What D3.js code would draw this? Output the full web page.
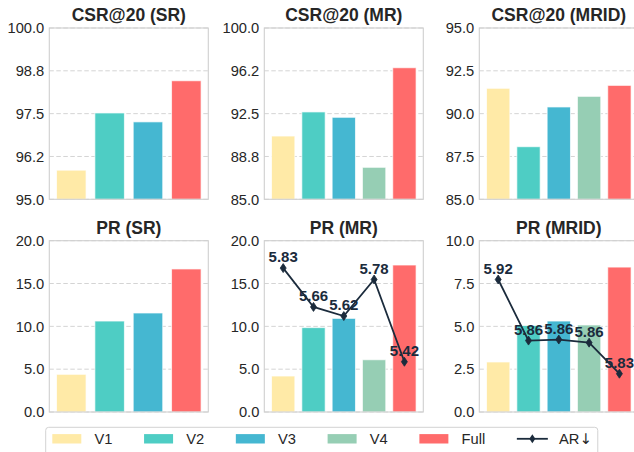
<!DOCTYPE html>
<html>
<head>
<meta charset="utf-8">
<script src="https://cdn.jsdelivr.net/npm/d3@7"></script>
<style>
  html, body { margin: 0; padding: 0; background: #fff; }
  svg { display: block; font-family: "Liberation Sans", Arial, sans-serif; }
</style>
</head>
<body>
<svg id="chart" width="634" height="452"></svg>
<script>
// ---------- data ----------
const titles = ["CSR@20 (SR)", "CSR@20 (MR)", "CSR@20 (MRID)", "PR (SR)", "PR (MR)", "PR (MRID)"];
const catsSR = ["V1", "V2", "V3", "Full"];
const catsMR = ["V1", "V2", "V3", "V4", "Full"];
const legendNames = ["V1", "V2", "V3", "V4", "Full"];
const lineName = "AR";
const lineArrow = "\u2193";

const csrSR   = [95.85, 97.52, 97.26, 98.46];
const csrMR   = [90.54, 92.65, 92.18, 87.80, 96.52];
const csrMRID = [91.48, 88.07, 90.39, 91.01, 91.65];
const prSR    = [4.40, 10.62, 11.56, 16.70];
const prMR    = [4.20, 9.85, 10.93, 6.10, 17.16];
const prMRID  = [2.92, 5.05, 5.31, 5.08, 8.46];
const arMR    = [5.83, 5.66, 5.62, 5.78, 5.42];
const arMRID  = [5.921, 5.862, 5.863, 5.860, 5.830];

const yDomains = [[95, 100], [85, 100], [85, 95], [0, 20], [0, 20], [0, 10]];
const yTicks = [
  [95, 96.25, 97.5, 98.75, 100],
  [85, 88.75, 92.5, 96.25, 100],
  [85, 87.5, 90, 92.5, 95],
  [0, 5, 10, 15, 20],
  [0, 5, 10, 15, 20],
  [0, 2.5, 5, 7.5, 10]
];
const yTickLabels = [
  ["95.0", "96.2", "97.5", "98.8", "100.0"],
  ["85.0", "88.8", "92.5", "96.2", "100.0"],
  ["85.0", "87.5", "90.0", "92.5", "95.0"],
  ["0.0", "5.0", "10.0", "15.0", "20.0"],
  ["0.0", "5.0", "10.0", "15.0", "20.0"],
  ["0.0", "2.5", "5.0", "7.5", "10.0"]
];
const arDomainMR = [5.2, 5.95];
const arDomainMRID = [5.793, 5.9585];

// ---------- style ----------
const colors = { V1: "#FFEAA7", V2: "#4ECDC4", V3: "#45B7D1", V4: "#96CEB4", Full: "#FF6B6B" };
const lineColor = "#1b2b3c";
const textColor = "#262626";
const panelLefts = [49.3, 264.3, 479.3];
const rowTops = [28, 240.7];
const pw = 159, ph = 171.3;
const barW = 0.77;

const panels = [
  { cats: catsSR, vals: csrSR },
  { cats: catsMR, vals: csrMR },
  { cats: catsMR, vals: csrMRID },
  { cats: catsSR, vals: prSR },
  { cats: catsMR, vals: prMR, ar: arMR, arDom: arDomainMR },
  { cats: catsMR, vals: prMRID, ar: arMRID, arDom: arDomainMRID }
];

const svg = d3.select("#chart");

panels.forEach((p, i) => {
  const left = panelLefts[i % 3];
  const top = rowTops[Math.floor(i / 3)];
  const g = svg.append("g").attr("transform", `translate(${left},${top})`);
  const n = p.cats.length;

  const x = d3.scaleBand().domain(p.cats).range([0, pw])
    .paddingInner(1 - barW).paddingOuter(0.05 * (n - 1 + barW)).align(0.5);
  const y = d3.scaleLinear().domain(yDomains[i]).range([ph, 0]);

  // grid
  g.append("g").selectAll("line").data(yTicks[i]).join("line")
    .attr("x1", 0).attr("x2", pw)
    .attr("y1", d => y(d)).attr("y2", d => y(d))
    .attr("stroke", "#d4d4d4").attr("stroke-width", 1)
    .attr("stroke-dasharray", "4.5,2.5");

  // bars
  g.append("g").selectAll("rect").data(p.cats).join("rect")
    .attr("x", d => x(d)).attr("width", x.bandwidth())
    .attr("y", (d, k) => y(p.vals[k]))
    .attr("height", (d, k) => ph - y(p.vals[k]))
    .attr("fill", d => colors[d])
    .attr("stroke", "#ffffff").attr("stroke-opacity", 0.7).attr("stroke-width", 1);

  // frame
  g.append("rect").attr("x", 0).attr("y", 0).attr("width", pw).attr("height", ph)
    .attr("fill", "none").attr("stroke", "#cfcfcf").attr("stroke-width", 1.1);

  // y axis labels
  const yAxis = d3.axisLeft(y).tickValues(yTicks[i])
    .tickFormat((d, k) => yTickLabels[i][k]).tickSize(0).tickPadding(5);
  const ax = g.append("g").call(yAxis);
  ax.select(".domain").remove();
  ax.selectAll("text").attr("fill", textColor)
    .style("font-size", "14.7px").style("font-family", '"Liberation Sans", Arial, sans-serif');

  // title
  g.append("text").attr("x", pw / 2).attr("y", -7)
    .attr("text-anchor", "middle").attr("fill", textColor)
    .style("font-size", "17.5px").style("font-weight", "bold")
    .text(titles[i]);

  // AR line
  if (p.ar) {
    const y2 = d3.scaleLinear().domain(p.arDom).range([ph, 0]);
    const pts = p.cats.map((c, k) => [x(c) + x.bandwidth() / 2, y2(p.ar[k])]);
    g.append("path").attr("d", d3.line()(pts))
      .attr("fill", "none").attr("stroke", lineColor).attr("stroke-width", 1.8);
    g.append("g").selectAll("path").data(pts).join("path")
      .attr("d", d => `M${d[0]},${d[1] - 4.5}L${d[0] + 3},${d[1]}L${d[0]},${d[1] + 4.5}L${d[0] - 3},${d[1]}Z`)
      .attr("fill", lineColor).attr("stroke", lineColor).attr("stroke-width", 0.8);
    g.append("g").selectAll("text").data(pts).join("text")
      .attr("x", d => d[0]).attr("y", d => d[1] - 6)
      .attr("text-anchor", "middle").attr("fill", lineColor)
      .style("font-size", "15px").style("font-weight", "bold")
      .text((d, k) => d3.format(".2f")(p.ar[k]));
  }
});

// ---------- legend ----------
const lg = svg.append("g");
const box = lg.append("rect").attr("x", 45.7).attr("y", 427.3).attr("height", 28).attr("rx", 3)
  .attr("fill", "#fff").attr("stroke", "#d3d3d3").attr("stroke-width", 1);
let cx = 52.3;
const cy = 438.8;
legendNames.forEach(name => {
  lg.append("rect").attr("x", cx).attr("y", cy - 4.7).attr("width", 29).attr("height", 9.4)
    .attr("fill", colors[name]);
  const t = lg.append("text").attr("x", cx + 29 + 13.2).attr("y", cy).attr("dy", "0.35em")
    .attr("fill", textColor).style("font-size", "14.7px").text(name);
  cx = cx + 29 + 13.2 + t.node().getComputedTextLength() + 31.6;
});
lg.append("line").attr("x1", cx).attr("x2", cx + 31).attr("y1", cy).attr("y2", cy)
  .attr("stroke", lineColor).attr("stroke-width", 1.8);
lg.append("path")
  .attr("d", `M${cx + 15.5},${cy - 4.5}L${cx + 18.5},${cy}L${cx + 15.5},${cy + 4.5}L${cx + 12.5},${cy}Z`)
  .attr("fill", lineColor);
const at = lg.append("text").attr("x", cx + 29 + 13.2).attr("y", cy).attr("dy", "0.35em")
  .attr("fill", textColor).style("font-size", "14.7px");
at.append("tspan").text(lineName);
at.append("tspan").style("font-family", '"DejaVu Sans", sans-serif').style("font-size", "14.7px").text(lineArrow);
const endX = cx + 29 + 13.2 + at.node().getComputedTextLength() + 6;
box.attr("width", endX - 45.7);
</script>
</body>
</html>
